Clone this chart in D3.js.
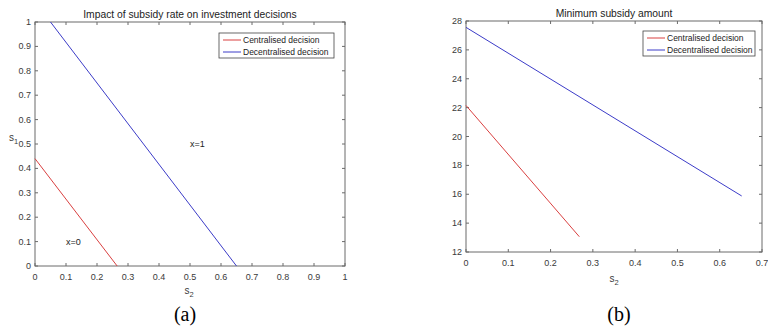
<!DOCTYPE html>
<html>
<head>
<meta charset="utf-8">
<script src="https://cdn.jsdelivr.net/npm/d3@7"></script>
<style>
  body { margin: 0; background: #fff; }
</style>
</head>
<body>
<svg id="fig" width="768" height="331" font-family="'Liberation Sans', Arial, sans-serif"></svg>
<script>
// panel (a): boundary lines s1 vs s2
const aCentral = [{ x: 0, y: 0.44 }, { x: 0.265, y: 0 }];
const aDecentral = [{ x: 0.05, y: 1 }, { x: 0.65, y: 0 }];
const aTicks = [0, 0.1, 0.2, 0.3, 0.4, 0.5, 0.6, 0.7, 0.8, 0.9, 1];
const aNotes = [{ x: 0.5, y: 0.5, label: "x=1" }, { x: 0.1, y: 0.1, label: "x=0" }];

// panel (b): minimum subsidy amount vs s2
const bCentral = [{ x: 0, y: 22.15 }, { x: 0.268, y: 13.06 }];
const bDecentral = [{ x: 0, y: 27.56 }, { x: 0.652, y: 15.88 }];
const bxTicks = [0, 0.1, 0.2, 0.3, 0.4, 0.5, 0.6, 0.7];
const byTicks = [12, 14, 16, 18, 20, 22, 24, 26, 28];

const seriesNames = ["Centralised decision", "Decentralised decision"];
const seriesColors = ["#d94040", "#3c3cc8"];

const svg = d3.select("#fig");
svg.append("rect").attr("width", 768).attr("height", 331).attr("fill", "#fff");

const axisColor = "#6a6a6a";
const textColor = "#3a3a3a";

function drawPanel(opt) {
  const g = svg.append("g");
  const x = d3.scaleLinear().domain(opt.xDomain).range([opt.left, opt.right]);
  const y = d3.scaleLinear().domain(opt.yDomain).range([opt.bottom, opt.top]);
  const tl = 3;

  // box
  g.append("rect")
    .attr("x", opt.left).attr("y", opt.top)
    .attr("width", opt.right - opt.left).attr("height", opt.bottom - opt.top)
    .attr("fill", "none").attr("stroke", axisColor).attr("stroke-width", 1);

  // inward ticks on all sides
  opt.xTicks.forEach((t) => {
    g.append("line").attr("x1", x(t)).attr("x2", x(t)).attr("y1", opt.bottom).attr("y2", opt.bottom - tl).attr("stroke", axisColor);
    g.append("line").attr("x1", x(t)).attr("x2", x(t)).attr("y1", opt.top).attr("y2", opt.top + tl).attr("stroke", axisColor);
    g.append("text").attr("x", x(t)).attr("y", opt.bottom + 14)
      .attr("text-anchor", "middle").attr("font-size", "9px").attr("fill", textColor).text(t);
  });
  opt.yTicks.forEach((t) => {
    g.append("line").attr("x1", opt.left).attr("x2", opt.left + tl).attr("y1", y(t)).attr("y2", y(t)).attr("stroke", axisColor);
    g.append("line").attr("x1", opt.right).attr("x2", opt.right - tl).attr("y1", y(t)).attr("y2", y(t)).attr("stroke", axisColor);
    g.append("text").attr("x", opt.left - 4).attr("y", y(t) + 3)
      .attr("text-anchor", "end").attr("font-size", "9px").attr("fill", textColor).text(t);
  });

  // lines
  const line = d3.line().x((d) => x(d.x)).y((d) => y(d.y));
  opt.series.forEach((s, i) => {
    g.append("path").datum(s).attr("d", line)
      .attr("fill", "none").attr("stroke", seriesColors[i]).attr("stroke-width", 1);
  });

  // title
  g.append("text").attr("x", opt.titleX).attr("y", opt.top - 4)
    .attr("text-anchor", "middle").attr("font-size", "10.3px").attr("fill", "#222").text(opt.title);

  // x label s2
  const xl = g.append("text").attr("x", opt.xLabelX).attr("y", opt.xLabelY)
    .attr("text-anchor", "middle").attr("font-size", "10px").attr("fill", textColor);
  xl.append("tspan").text("s");
  xl.append("tspan").attr("dy", 3).attr("font-size", "7.5px").text("2");

  // legend
  const lg = g.append("g").attr("transform", `translate(${opt.legend[0]},${opt.legend[1]})`);
  lg.append("rect").attr("width", opt.legend[2]).attr("height", 25)
    .attr("fill", "#fff").attr("stroke", "#444").attr("stroke-width", 0.8);
  seriesNames.forEach((n, i) => {
    lg.append("line").attr("x1", 4).attr("x2", 22).attr("y1", 7 + i * 12).attr("y2", 7 + i * 12)
      .attr("stroke", seriesColors[i]).attr("stroke-width", 1);
    lg.append("text").attr("x", 24).attr("y", 10 + i * 12)
      .attr("font-size", "8.5px").attr("fill", "#222").text(n);
  });

  // caption
  g.append("text").attr("x", opt.capX).attr("y", 321)
    .attr("text-anchor", "middle").attr("font-size", "20px")
    .attr("font-family", "'Liberation Serif', 'Times New Roman', serif")
    .attr("fill", "#000").text(opt.caption);

  return { g, x, y };
}

const pa = drawPanel({
  left: 35, right: 345, top: 22, bottom: 266,
  xDomain: [0, 1], yDomain: [0, 1],
  xTicks: aTicks, yTicks: aTicks,
  series: [aCentral, aDecentral],
  title: "Impact of subsidy rate on investment decisions", titleX: 190,
  xLabelX: 189, xLabelY: 294,
  legend: [219, 33, 115],
  capX: 185, caption: "(a)"
});

// s1 label and region notes for panel (a)
const yl = pa.g.append("text").attr("x", 9).attr("y", 141)
  .attr("font-size", "10px").attr("fill", textColor);
yl.append("tspan").text("s");
yl.append("tspan").attr("dy", 3).attr("font-size", "7.5px").text("1");

aNotes.forEach((n) => {
  pa.g.append("text").attr("x", pa.x(n.x)).attr("y", pa.y(n.y) + 3)
    .attr("font-size", "9px").attr("fill", "#222").text(n.label);
});

drawPanel({
  left: 466, right: 762, top: 21, bottom: 252,
  xDomain: [0, 0.7], yDomain: [12, 28],
  xTicks: bxTicks, yTicks: byTicks,
  series: [bCentral, bDecentral],
  title: "Minimum subsidy amount", titleX: 614,
  xLabelX: 614, xLabelY: 282,
  legend: [643, 31, 112],
  capX: 619, caption: "(b)"
});
</script>
</body>
</html>
